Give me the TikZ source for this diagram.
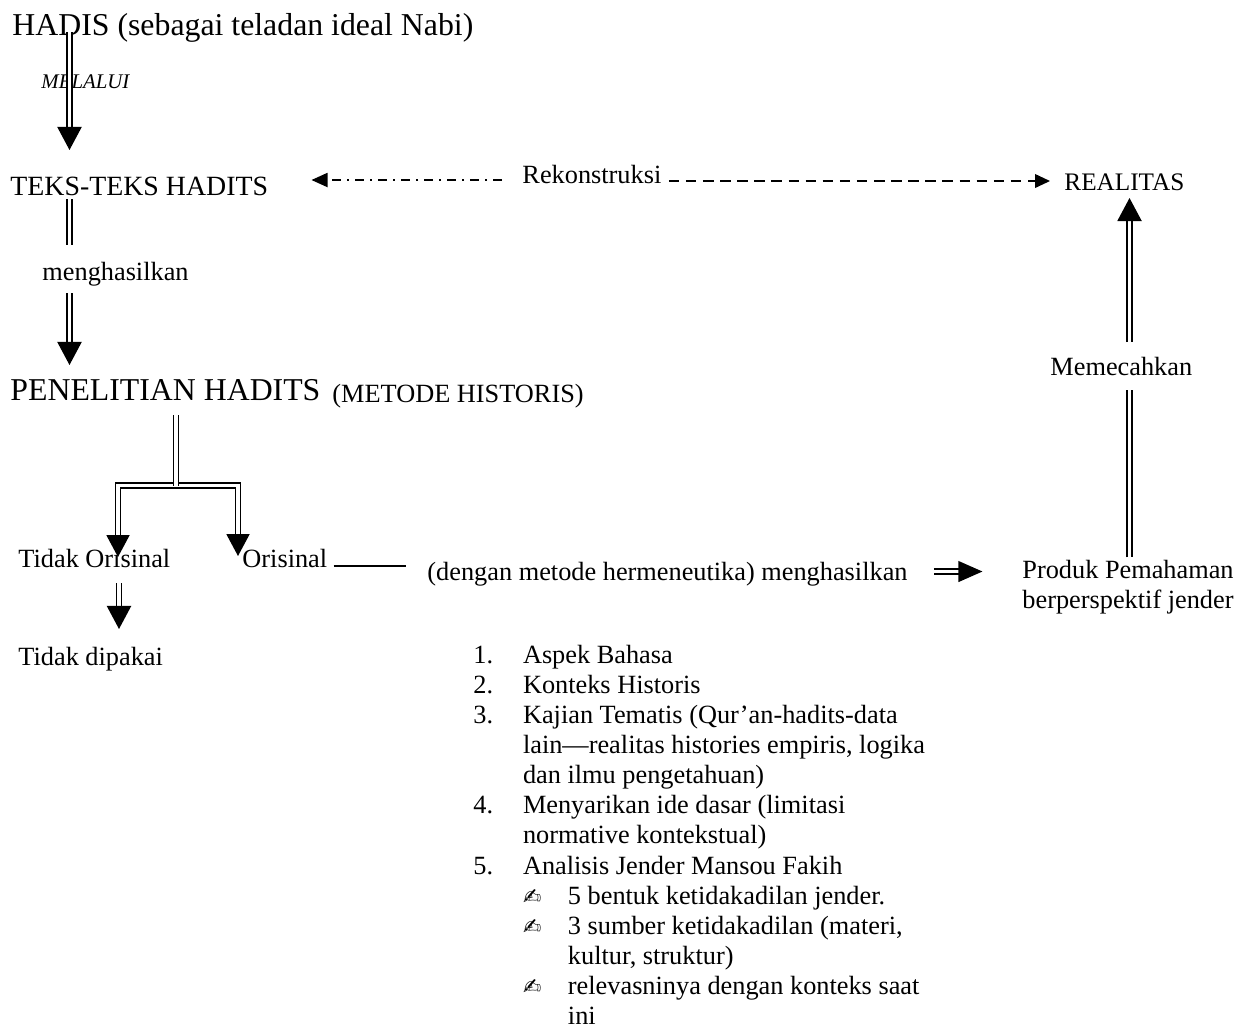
\documentclass[tikz,border=0pt]{standalone}
\usepackage{fontspec}
\setmainfont{Liberation Serif}
\newfontfamily\dejavu{DejaVu Sans}
\usetikzlibrary{arrows.meta,calc}
\newcommand{\nomor}[1]{\makebox[22.6pt][l]{#1}}
\newcommand{\poin}{\makebox[20.5pt][l]{{\dejavu\fontsize{10}{12}\selectfont ✍}}}

\begin{document}
\begin{tikzpicture}[x=0.456pt,y=-0.456pt,
  every node/.style={inner sep=0pt,anchor=base west},
  besar/.style={font=\fontsize{14.5}{17}\selectfont},
  isi/.style={font=\fontsize{12}{13.75}\selectfont},
  kecil/.style={font=\fontsize{9.5}{11}\selectfont\itshape},
  dbl/.style={double,double distance=1.5pt,line width=0.75pt},
  panah/.style={dbl,-{Triangle[length=10.5pt,width=11pt]}},
  putus/.style={line width=0.75pt,dash pattern=on 4.8pt off 3pt,-{Triangle[length=6.8pt,width=6.2pt]}},
  titik/.style={line width=0.75pt,dash pattern=on 4pt off 2.8pt on 0.9pt off 2.8pt,-{Triangle[length=7.3pt,width=6.4pt]}}]
  \useasboundingbox (0,0) rectangle (1241,1034);
  \coordinate (kolom) at (1129.5,0);
  \coordinate (kiri) at (118,485.5); \coordinate (kanan) at (238,485.5); \coordinate (cabang) at (176,485.5);
  \node[besar] (hadis) at (12,35) {HADIS (sebagai teladan ideal Nabi)};
  \node[kecil] (melalui) at (41,88) {MELALUI};
  \node[font=\fontsize{12.7}{15}\selectfont] (teks) at (10,195) {TEKS-TEKS HADITS};
  \node[isi] (rekon) at (522,183) {Rekonstruksi};
  \node[font=\fontsize{11.5}{14}\selectfont] (realitas) at (1064,190) {REALITAS};
  \node[isi] (hasil) at (42,280) {menghasilkan};
  \node[besar] (penelitian) at (10,400) {PENELITIAN HADITS};
  \node[isi] (metode) at (332,402) {(METODE HISTORIS)};
  \node[isi] (memecah) at (1050,375) {Memecahkan};
  \node[isi] (tdkori) at (18,567) {Tidak Orisinal};
  \node[isi] (ori) at (242,567) {Orisinal};
  \node[isi] (dengan) at (427,580) {(dengan metode hermeneutika) menghasilkan};
  \node[isi,anchor=base] (produk) at (1128,578) {\begin{tabular}[t]{@{}c@{}}Produk Pemahaman\\ berperspektif jender\end{tabular}};
  \node[isi] (tdkpakai) at (18,665) {Tidak dipakai};
  \node[isi] (langkah) at (473,663) {\parbox[t]{250pt}{%
    \nomor{1.}Aspek Bahasa\\
    \nomor{2.}Konteks Historis\\
    \nomor{3.}Kajian Tematis (Qur’an-hadits-data\\
    \nomor{}lain—realitas histories empiris, logika\\
    \nomor{}dan ilmu pengetahuan)\\
    \nomor{4.}Menyarikan ide dasar (limitasi\\
    \nomor{}normative kontekstual)\\
    \nomor{5.}Analisis Jender Mansou Fakih\\
    \nomor{}\poin 5 bentuk ketidakadilan jender.\\
    \nomor{}\poin 3 sumber ketidakadilan (materi,\\
    \nomor{}\hspace*{20.5pt}kultur, struktur)\\
    \nomor{}\poin relevasninya dengan konteks saat\\
    \nomor{}\hspace*{20.5pt}ini}};
  \draw[panah] ($(hadis.base west)+(57.5,-3)$) -- ($(teks.base west)+(59.5,-45)$);
  \draw[dbl] ($(teks.base west)+(59.5,4)$) -- ($(hasil.base west)+(27.5,-35)$);
  \draw[panah] ($(hasil.base west)+(27.5,13)$) -- ($(penelitian.base west)+(59.5,-35)$);
  \draw[dbl,{Triangle[length=10pt,width=10.5pt]}-{Triangle[length=10pt,width=10.5pt]}] ($(tdkori.base west)+(100,-10)$) -- (kiri) -- (kanan) -- ($(ori.base west)+(-4,-11)$);
  \draw[dbl] ($(penelitian.base west)+(166,15)$) -- (cabang);
  \draw[panah] ($(tdkori.base west)+(101,16)$) -- ($(tdkpakai.base west)+(101,-36)$);
  \draw[line width=0.75pt] ($(ori.base east)+(6,-1)$) -- ($(dengan.base west)+(-21,-14)$);
  \draw[dbl,-{Triangle[length=11pt,width=9.5pt]}] ($(dengan.base east)+(26,-8.5)$) -- ($(produk.west |- dengan.base)+(-39.5,-8.5)$);
  \draw[dbl] ($(produk.north -| kolom)+(0,1)$) -- ($(memecah.base west -| kolom)+(0,15)$);
  \draw[panah] ($(memecah.base west -| kolom)+(0,-33)$) -- ($(realitas.base west -| kolom)+(0,8)$);
  \draw[putus] ($(rekon.base east)+(7,-2)$) -- ($(realitas.base west)+(-14,-9)$);
  \draw[titik] ($(rekon.base west)+(-20,-3)$) -- ($(teks.base east)+(43,-15)$);
\end{tikzpicture}
\end{document}
